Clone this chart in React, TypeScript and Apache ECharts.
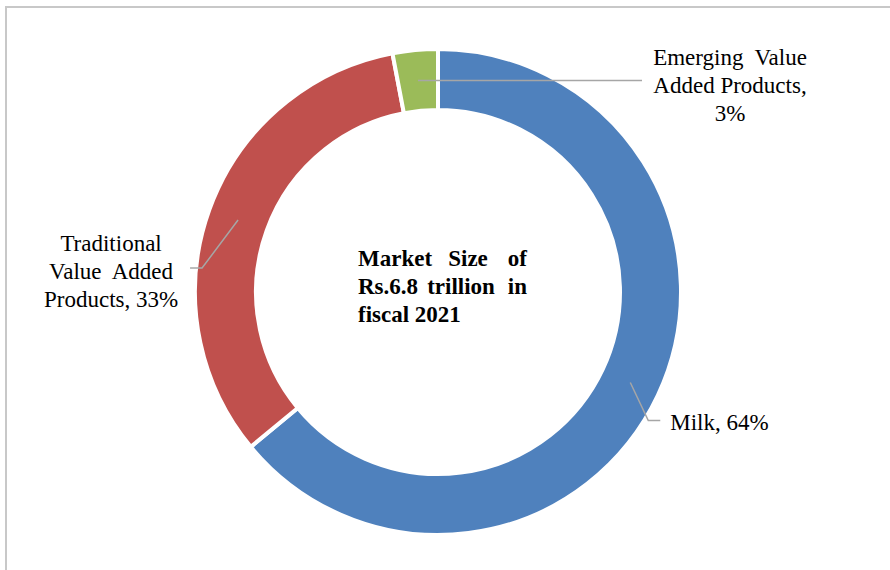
import React, { useEffect, useRef } from "react";
import * as echarts from "echarts";

const categories = ["Milk", "Traditional Value Added Products", "Emerging Value Added Products"];
const shares = [64, 33, 3];
const labelTexts = [
  "Milk, 64%",
  "Traditional\nValue  Added\nProducts, 33%",
  "Emerging  Value\nAdded Products,\n3%",
];
const colors = ["#4F81BD", "#C0504D", "#9BBB59"];
const centerLines = [
  ["Market", "Size", "of"],
  ["Rs.6.8", "trillion", "in"],
  ["fiscal 2021"],
];

const FONT = '"Liberation Serif", "Times New Roman", serif';

export default function App() {
  const ref = useRef<HTMLDivElement>(null);
  useEffect(() => {
    document.body.style.margin = "0";
    const chart = echarts.init(ref.current!, null, { renderer: "svg" });
    const data = categories.map((name, i) => ({ name, value: shares[i] }));

    // leader line bends and label offsets (relative to the start point)
    const bends = [
      { d1: [18, 38], d2: [12, 0], lab: [10, 2], align: "left" },
      { d1: [-36, 48], d2: [-12, 0], lab: [-79, 3], align: "center" },
      { d1: [112, 0], d2: [112, 0], lab: [88, 5], align: "center" },
    ];

    // center justified text
    const lineY = [258, 286, 314];
    const leftX = 358;
    const rightX = 527;
    const midX = [468, 461];
    const centerGraphics: any[] = [];
    centerLines.forEach((words, li) => {
      words.forEach((w, wi) => {
        let x = leftX;
        let align = "left";
        if (words.length > 1) {
          if (wi === words.length - 1) {
            x = rightX;
            align = "right";
          } else if (wi > 0) {
            x = midX[li];
            align = "center";
          }
        }
        centerGraphics.push({
          type: "text",
          x,
          y: lineY[li],
          style: {
            text: w,
            font: `bold 23px ${FONT}`,
            fill: "#000",
            align,
            verticalAlign: "middle",
          },
        });
      });
    });

    const frame = {
      type: "rect",
      shape: { x: 6, y: 7, width: 900, height: 600 },
      style: { fill: "none", stroke: "#c8c8c8", lineWidth: 2 },
      silent: true,
    };

    const ringSeries = {
      type: "pie",
      center: [438, 292],
      radius: [182, 243],
      startAngle: 90,
      clockwise: true,
      avoidLabelOverlap: false,
      color: colors,
      itemStyle: { borderColor: "#fff", borderWidth: 4 },
      label: { show: false },
      labelLine: { show: false },
      data,
      silent: true,
    };

    chart.setOption({
      animation: false,
      graphic: [frame, ...centerGraphics],
      series: [ringSeries],
    });

    // read the library's own sector layout to find leader-line anchors (mid-ring)
    const seriesData = (chart as any).getModel().getSeriesByIndex(0).getData();
    const anchors = data.map((_, i) => {
      const l = seriesData.getItemLayout(i);
      const mid = (l.startAngle + l.endAngle) / 2;
      const r = (l.r + l.r0) / 2;
      return [l.cx + r * Math.cos(mid), l.cy + r * Math.sin(mid)];
    });
    const paths = anchors.map((p0, i) => {
      const b = bends[i];
      const p1 = [p0[0] + b.d1[0], p0[1] + b.d1[1]];
      const p2 = [p1[0] + b.d2[0], p1[1] + b.d2[1]];
      return { p0, p1, p2 };
    });

    const leaderLines = paths.map((p) => ({
      type: "polyline",
      shape: { points: [p.p0, p.p1, p.p2] },
      style: { stroke: "#a6a6a6", lineWidth: 1.5, fill: "none" },
      silent: true,
      z: 10,
    }));

    chart.setOption({
      graphic: [frame, ...centerGraphics, ...leaderLines],
      series: [
        {
          ...ringSeries,
          label: {
            show: true,
            position: "outside",
            formatter: (p: any) => labelTexts[p.dataIndex],
            fontFamily: FONT,
            fontSize: 23,
            lineHeight: 28,
            color: "#000",
          },
          labelLine: { show: false },
          labelLayout: (params: any) => {
            const i = params.dataIndex;
            const b = bends[i];
            const p2 = paths[i].p2;
            return {
              x: p2[0] + b.lab[0],
              y: p2[1] + b.lab[1],
              align: b.align,
              verticalAlign: "middle",
            };
          },
        },
      ],
    });
    return () => chart.dispose();
  }, []);
  return <div ref={ref} style={{ width: 890, height: 570 }} />;
}
